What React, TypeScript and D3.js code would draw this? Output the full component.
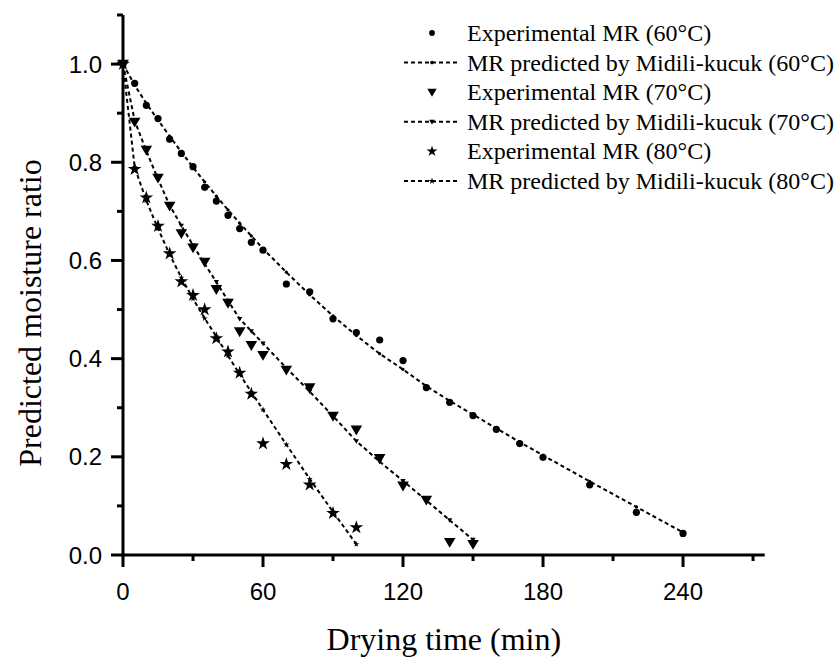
import React from 'react';
import * as d3 from 'd3';

// ---- data ----
const time60 = [0, 5, 10, 15, 20, 25, 30, 35, 40, 45, 50, 55, 60, 70, 80, 90, 100, 110, 120, 130, 140, 150, 160, 170, 180, 200, 220, 240];
const exp60 = [1.0, 0.961, 0.916, 0.889, 0.847, 0.818, 0.791, 0.749, 0.721, 0.692, 0.665, 0.637, 0.621, 0.552, 0.536, 0.481, 0.453, 0.438, 0.396, 0.341, 0.311, 0.284, 0.256, 0.227, 0.199, 0.143, 0.087, 0.044];
const pred60 = [1.0, 0.957, 0.920, 0.886, 0.853, 0.821, 0.790, 0.760, 0.731, 0.703, 0.676, 0.650, 0.624, 0.576, 0.530, 0.487, 0.447, 0.410, 0.378, 0.344, 0.314, 0.286, 0.258, 0.230, 0.203, 0.150, 0.098, 0.046];

const time70 = [0, 5, 10, 15, 20, 25, 30, 35, 40, 45, 50, 55, 60, 70, 80, 90, 100, 110, 120, 130, 140, 150];
const exp70 = [1.0, 0.882, 0.825, 0.768, 0.711, 0.655, 0.626, 0.597, 0.541, 0.513, 0.455, 0.427, 0.407, 0.377, 0.341, 0.283, 0.255, 0.197, 0.141, 0.112, 0.026, 0.022];
const pred70 = [1.0, 0.885, 0.823, 0.766, 0.712, 0.671, 0.631, 0.593, 0.556, 0.518, 0.481, 0.456, 0.431, 0.381, 0.333, 0.283, 0.232, 0.190, 0.151, 0.111, 0.071, 0.031];

const time80 = [0, 5, 10, 15, 20, 25, 30, 35, 40, 45, 50, 55, 60, 70, 80, 90, 100];
const exp80 = [1.0, 0.786, 0.728, 0.670, 0.614, 0.557, 0.529, 0.500, 0.441, 0.414, 0.371, 0.328, 0.227, 0.185, 0.143, 0.085, 0.056];
const pred80 = [1.0, 0.790, 0.722, 0.665, 0.612, 0.565, 0.522, 0.482, 0.445, 0.406, 0.368, 0.332, 0.296, 0.225, 0.155, 0.088, 0.022];

const xMajorTicks = [0, 60, 120, 180, 240];
const xMinorTicks = [30, 90, 150, 210, 270];
const yMajorTicks = [0, 0.2, 0.4, 0.6, 0.8, 1.0];
const yMinorTicks = [0.1, 0.3, 0.5, 0.7, 0.9, 1.1];

const legendLabels = [
  'Experimental MR (60°C)',
  'MR predicted by Midili-kucuk (60°C)',
  'Experimental MR (70°C)',
  'MR predicted by Midili-kucuk (70°C)',
  'Experimental MR (80°C)',
  'MR predicted by Midili-kucuk (80°C)',
];

const xTitle = 'Drying time (min)';
const yTitle = 'Predicted moisture ratio';

// ---- layout ----
const W = 839;
const H = 657;
const X0 = 123;
const X1 = 764.7;
const Y0 = 555;
const Y1 = 15;

const x = d3.scaleLinear().domain([0, 275]).range([X0, X1]);
const y = d3.scaleLinear().domain([0, 1.1]).range([Y0, Y1]);

type Shape = 'circle' | 'tri' | 'star';

function Marker({ shape, cx, cy, s }: { shape: Shape; cx: number; cy: number; s: number }) {
  if (shape === 'circle') return <circle cx={cx} cy={cy} r={3.6 * s} fill="#000" />;
  if (shape === 'tri') {
    const w = 5.8 * s, top = 4.3 * s, bot = 5.6 * s;
    return <path d={`M${cx - w},${cy - top}L${cx + w},${cy - top}L${cx},${cy + bot}Z`} fill="#000" />;
  }
  const p = d3.symbol().type(d3.symbolStar).size(58 * s * s)();
  return <path d={p || ''} transform={`translate(${cx},${cy})`} fill="#000" />;
}

const series = [
  { t: time60, e: exp60, p: pred60, shape: 'circle' as Shape },
  { t: time70, e: exp70, p: pred70, shape: 'tri' as Shape },
  { t: time80, e: exp80, p: pred80, shape: 'star' as Shape },
];

export default function App() {
  const line = d3
    .line<[number, number]>()
    .x((d) => x(d[0]))
    .y((d) => y(d[1]));
  const fmt = d3.format('.1f');
  const legendY = (i: number) => 33 + i * 29.6;

  return (
    <svg width={W} height={H} style={{ position: 'absolute', left: 0, top: 0, background: '#fff' }}>
      <rect x={0} y={0} width={W} height={H} fill="#fff" />
      {/* predicted lines */}
      {series.map((s, i) => (
        <g key={'p' + i}>
          <path
            d={line(s.t.map((t, j) => [t, s.p[j]] as [number, number])) || ''}
            fill="none"
            stroke="#000"
            strokeWidth={2}
            strokeDasharray="4,3"
          />
          {s.t.map((t, j) => (
            <Marker key={j} shape={s.shape} cx={x(t)} cy={y(s.p[j])} s={0.45} />
          ))}
        </g>
      ))}
      {/* experimental markers */}
      {series.map((s, i) => (
        <g key={'e' + i}>
          {s.t.map((t, j) => (
            <Marker key={j} shape={s.shape} cx={x(t)} cy={y(s.e[j])} s={1} />
          ))}
        </g>
      ))}
      {/* axes */}
      <g stroke="#000" strokeWidth={3}>
        <line x1={X0} y1={Y0 + 1.5} x2={X0} y2={Y1} />
        <line x1={X0 - 1.5} y1={Y0} x2={X1} y2={Y0} />
        {yMajorTicks.map((v) => (
          <line key={'ym' + v} x1={X0 - 12} x2={X0} y1={y(v)} y2={y(v)} />
        ))}
        {yMinorTicks.map((v) => (
          <line key={'yn' + v} x1={X0 - 6} x2={X0} y1={y(v)} y2={y(v)} />
        ))}
        {xMajorTicks.map((v) => (
          <line key={'xm' + v} x1={x(v)} x2={x(v)} y1={Y0} y2={Y0 + 12} />
        ))}
        {xMinorTicks.map((v) => (
          <line key={'xn' + v} x1={x(v)} x2={x(v)} y1={Y0} y2={Y0 + 6} />
        ))}
      </g>
      <g fontFamily="'Liberation Sans', Arial, sans-serif" fontSize={24} fill="#000">
        {yMajorTicks.map((v) => (
          <text key={'yl' + v} x={X0 - 21} y={y(v)} dy="0.36em" textAnchor="end">
            {fmt(v)}
          </text>
        ))}
        {xMajorTicks.map((v) => (
          <text key={'xl' + v} x={x(v)} y={600} textAnchor="middle">
            {v}
          </text>
        ))}
      </g>
      <g fontFamily="'Liberation Serif', 'Times New Roman', serif" fill="#000">
        <text x={(X0 + X1) / 2} y={650} fontSize={32} textAnchor="middle">
          {xTitle}
        </text>
        <text transform={`translate(41,${313}) rotate(-90)`} fontSize={32} textAnchor="middle">
          {yTitle}
        </text>
      </g>
      {/* legend */}
      <g fontFamily="'Liberation Serif', 'Times New Roman', serif" fontSize={24} fill="#000">
        {legendLabels.map((lab, i) => {
          const s = series[Math.floor(i / 2)];
          const ly = legendY(i);
          const isLine = i % 2 === 1;
          return (
            <g key={'lg' + i}>
              {isLine ? (
                <>
                  <line x1={404} x2={460} y1={ly} y2={ly} stroke="#000" strokeWidth={2} strokeDasharray="4,3" />
                  <Marker shape={s.shape} cx={432} cy={ly} s={0.5} />
                </>
              ) : (
                <Marker shape={s.shape} cx={432} cy={ly} s={0.8} />
              )}
              <text x={467} y={ly} dy="0.33em">
                {lab}
              </text>
            </g>
          );
        })}
      </g>
    </svg>
  );
}
